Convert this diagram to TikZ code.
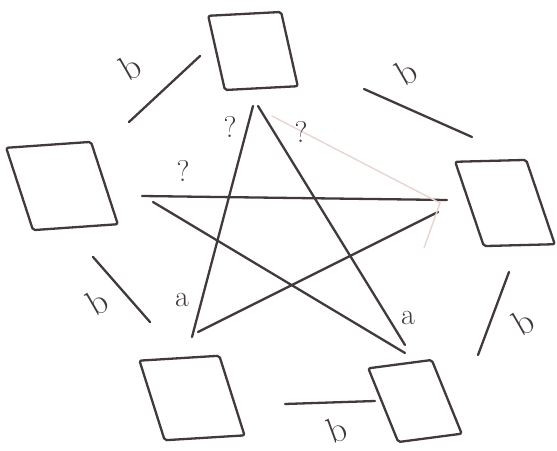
\documentclass[tikz,border=0pt]{standalone}
\usetikzlibrary{shapes.geometric}
\definecolor{pencil}{RGB}{66,58,58}
\definecolor{faint}{RGB}{232,212,208}

\begin{document}
\begin{tikzpicture}[x=1pt, y=-1pt,
  every node/.style={inner sep=0pt, outer sep=0pt},
  pen/.style={draw=pencil, line width=2.3pt, line cap=round, line join=round},
  box/.style={pen, rectangle, rounded corners=2pt},
  lbl/.style={text=pencil, font=\fontsize{30}{30}\selectfont},
  blbl/.style={lbl, font=\fontsize{36}{36}\selectfont}]
  \useasboundingbox (0,0) rectangle (557,450);

  % the five boxes
  \node[box, rotate=3, xslant=-0.17, minimum width=73, minimum height=75] (top) at (253,51) {};
  \node[box, rotate=4, xslant=-0.25, minimum width=85, minimum height=84] (left) at (62,186) {};
  \node[box, rotate=1.5, xslant=-0.31, minimum width=71, minimum height=85] (right) at (505,203) {};
  \node[box, rotate=3.5, xslant=-0.25, minimum width=80, minimum height=81] (botleft) at (192,398) {};
  \node[box, rotate=7.5, xslant=-0.26, minimum width=64, minimum height=77] (botright) at (415,401) {};

  % edges b between neighbours
  \coordinate (lt1) at (129,122);   \coordinate (lt2) at (200,56);
  \coordinate (tr1) at (364,89);    \coordinate (tr2) at (472,137);
  \coordinate (lb1) at (93,257);    \coordinate (lb2) at (150,322);
  \coordinate (rb1) at (509,272);   \coordinate (rb2) at (478,355);
  \coordinate (bb1) at (285,404);   \coordinate (bb2) at (375,401);
  \draw[pen] (lt1) -- (lt2);
  \draw[pen] (tr1) -- (tr2);
  \draw[pen] (lb1) -- (lb2);
  \draw[pen] (rb1) -- (rb2);
  \draw[pen] (bb1) -- (bb2);
  \node[blbl, rotate=30] (blt) at (130,67) {b};
  \node[blbl, rotate=30] (btr) at (406,72) {b};
  \node[blbl, rotate=30] (blb) at (97,302) {b};
  \node[blbl, rotate=30] (brb) at (523,322) {b};
  \node[blbl, rotate=20] (bbb) at (337,430) {b};

  % star
  \coordinate (s1) at (142,196);  \coordinate (s2) at (447,200);
  \coordinate (s3) at (153,202);  \coordinate (s4) at (405,353);
  \coordinate (s5) at (198,332);  \coordinate (s6) at (438,212);
  \coordinate (s7) at (192,337);  \coordinate (s8) at (253,106);
  \coordinate (s9) at (258,106);  \coordinate (s10) at (405,345);
  \draw[pen] (s1) -- (s2);
  \draw[pen] (s3) -- (s4);
  \draw[pen] (s5) -- (s6);
  \draw[pen] (s7) -- (s8);
  \draw[pen] (s9) -- (s10);
  % faint stroke
  \coordinate (f1) at (272,116);  \coordinate (f2) at (440,203);
  \coordinate (f3) at (424,248);
  \draw[faint, line width=1.4pt, line cap=round] (f1) -- (f2) -- (f3);

  \node[lbl] (q1) at (230,127) {?};
  \node[lbl] (q2) at (301,132) {?};
  \node[lbl] (q3) at (183,171) {?};
  \node[lbl] (a1) at (182,300) {a};
  \node[lbl] (a2) at (408,318) {a};
\end{tikzpicture}
\end{document}
